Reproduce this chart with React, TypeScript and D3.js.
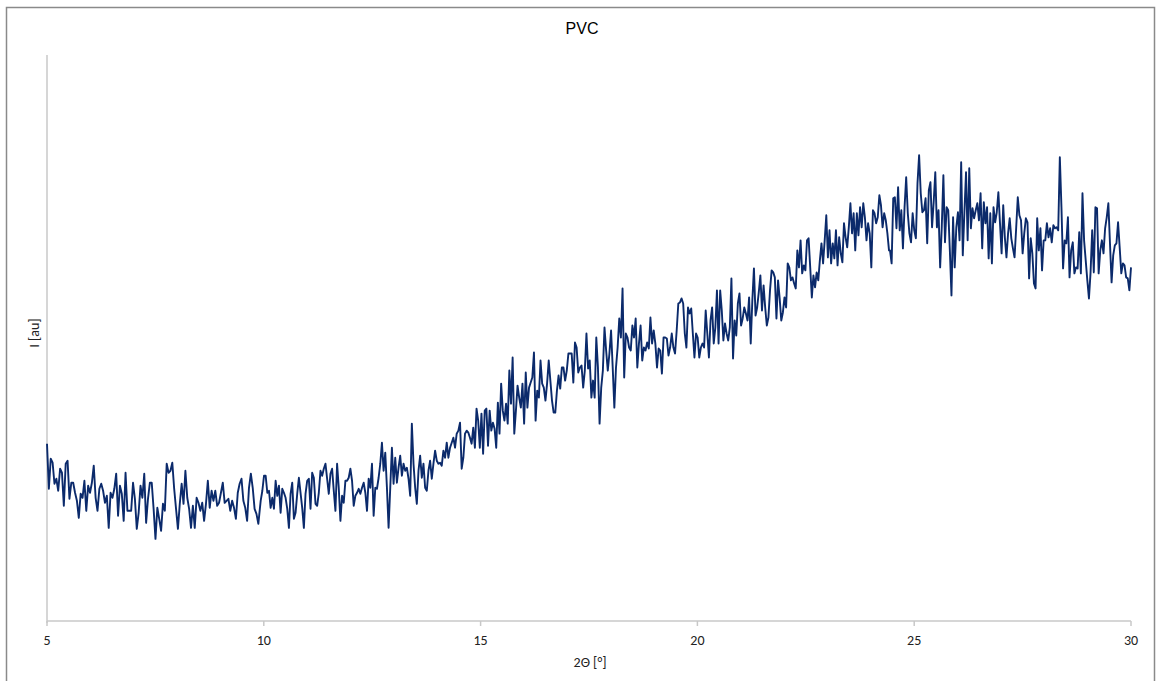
import React from "react";
import * as d3 from "d3";

const title = "PVC";
const xLabel = "2Θ [°]";
const yLabel = "I [au]";
const xTicks = [5, 10, 15, 20, 25, 30];
const xDomain: [number, number] = [5, 30];
const yDomain: [number, number] = [0, 565];

// Intensity readings, segment by segment (evenly spaced within each 2θ range)
const seg1Range: [number, number] = [5.0, 9.874];
const seg1 = [177,132,162,158,137,142,130,152,148,115,157,160,122,138,138,128,120,103,127,123,140,110,135,128,138,155,123,110,132,137,130,118,125,93,128,123,132,147,105,135,127,100,148,110,110,110,138,122,92,108,135,123,147,98,122,138,138,112,82,113,102,90,117,110,157,148,150,158,132,112,92,117,137,117,150,123,112,93,115,93,123,118,110,118,100,117,140,113,130,120,130,115,118,128,138,118,120,122,110,120,113,102,128,137,142,120,113,100,133,147,133,112,107,97];

const seg2Range: [number, number] = [9.928, 14.717];
const seg2 = [120,130,145,145,128,130,113,123,112,140,125,135,108,132,128,123,112,93,127,138,102,108,127,143,128,113,93,127,140,142,112,148,143,117,115,128,150,145,152,157,142,127,147,152,130,110,157,133,100,125,118,140,140,143,152,140,115,125,128,132,127,133,138,128,110,142,133,157,105,133,132,143,157,178,150,168,133,93,133,173,137,163,138,153,165,145,157,150,153,142,125,197,157,133,117,150,165,143,157,133,130,150,160,142,157,170,160,157,158,155,170,163,178,163,173,178,183,173,187,190,198,152,163,187,190,188];

const seg3Range: [number, number] = [14.755, 19.56];
const seg3 = [183,177,193,173,212,200,173,207,167,210,212,175,210,190,198,192,173,218,187,237,210,200,217,197,250,217,263,187,210,235,223,213,237,197,248,213,233,238,243,268,200,230,223,260,237,233,220,237,260,240,220,208,208,230,245,232,253,253,240,250,267,267,267,238,278,273,248,253,255,233,250,287,252,260,223,240,223,283,253,197,233,250,293,270,250,267,290,253,213,253,273,302,283,332,243,287,283,273,270,295,283,302,253,277,295,260,273,270,278,272,303,277,290,277,253,272,270,247,283,283,282,265,273,287,273,267,290,317];

const seg4Range: [number, number] = [19.598, 24.419];
const seg4 = [318,322,317,287,273,313,307,312,287,263,287,283,263,273,277,273,310,287,263,300,313,277,293,330,277,330,310,280,297,287,280,293,342,262,300,285,317,327,295,302,313,307,300,323,277,320,352,305,313,328,345,310,335,313,295,303,330,350,348,343,302,340,322,300,308,323,313,357,353,340,343,337,332,370,353,380,347,355,350,380,382,353,323,345,333,348,340,360,377,357,380,405,363,390,357,377,362,390,355,383,367,358,397,383,373,393,417,387,407,370,407,385,413,393,417,403,380,397,387,353,410,407,397,403,425,415,393,407,400,387,370];

const seg5Range: [number, number] = [24.442, 30.0];
const seg5 = [370,357,422,423,392,433,390,410,372,413,443,407,387,378,407,390,382,437,465,427,408,410,422,377,430,438,393,418,448,393,410,353,393,445,378,413,410,370,325,403,353,393,408,380,458,365,408,448,380,452,392,412,402,410,417,400,427,372,418,397,413,362,407,357,413,398,408,428,397,367,415,383,363,387,402,382,372,363,392,423,405,400,367,387,402,398,342,382,367,337,332,402,370,392,350,380,380,397,383,392,378,395,392,393,390,463,413,352,380,377,403,343,370,378,347,353,352,388,347,427,380,360,340,322,348,390,348,413,412,347,370,380,367,392,403,417,377,338,365,375,377,398,373,347,357,355,343,342,330,353];

const segments: { range: [number, number]; values: number[] }[] = [
  { range: seg1Range, values: seg1 },
  { range: seg2Range, values: seg2 },
  { range: seg3Range, values: seg3 },
  { range: seg4Range, values: seg4 },
  { range: seg5Range, values: seg5 },
];

const W = 1157;
const H = 681;
const left = 47;
const right = 1131;
const top = 55;
const bottom = 621;

export default function App() {
  const x = d3.scaleLinear().domain(xDomain).range([left, right]);
  const y = d3.scaleLinear().domain(yDomain).range([bottom, top]);

  const points: [number, number][] = [];
  segments.forEach((s) => {
    const n = s.values.length;
    const step = (s.range[1] - s.range[0]) / (n - 1);
    s.values.forEach((v, i) => points.push([s.range[0] + i * step, v]));
  });

  const line = d3
    .line<[number, number]>()
    .x((d) => x(d[0]))
    .y((d) => y(d[1]));

  const font = "Carlito, Lato, 'Liberation Sans', Arial, sans-serif";

  return (
    <svg
      width={W}
      height={H}
      style={{ position: "absolute", left: 0, top: 0, background: "#fff" }}
    >
      <rect x={6.5} y={7.5} width={1148} height={700} fill="#fff" stroke="#8a8a8a" strokeWidth={1.5} />
      <text
        x={582}
        y={34}
        textAnchor="middle"
        fontFamily="'Liberation Sans', Arial, sans-serif"
        fontSize={16}
        fill="#000"
      >
        {title}
      </text>
      {/* y axis */}
      <line x1={left} x2={left} y1={top} y2={bottom + 2} stroke="#c8c8c8" strokeWidth={1.5} />
      {/* x axis */}
      <line x1={left} x2={right} y1={bottom} y2={bottom} stroke="#c8c8c8" strokeWidth={1.5} />
      {xTicks.map((t) => (
        <g key={t}>
          <line x1={x(t)} x2={x(t)} y1={bottom} y2={bottom + 5} stroke="#c8c8c8" strokeWidth={1.5} />
          <text
            x={x(t)}
            y={bottom + 24}
            textAnchor="middle"
            fontFamily={font}
            fontSize={14}
            fill="#222"
          >
            {t}
          </text>
        </g>
      ))}
      <text x={590} y={667} textAnchor="middle" fontFamily={font} fontSize={14} fill="#222">
        {xLabel}
      </text>
      <text
        transform={`translate(39,333) rotate(-90)`}
        textAnchor="middle"
        fontFamily={font}
        fontSize={14}
        fill="#222"
      >
        {yLabel}
      </text>
      <path d={line(points) || ""} fill="none" stroke="#0b2a6b" strokeWidth={1.9} strokeLinejoin="round" />
    </svg>
  );
}
